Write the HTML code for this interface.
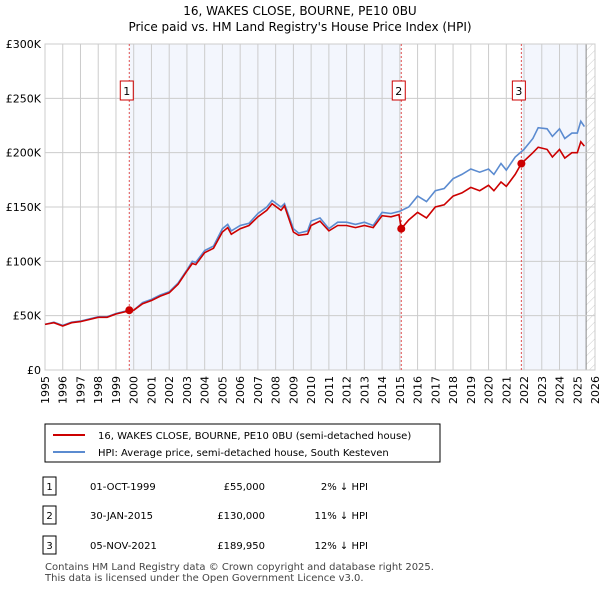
<!DOCTYPE html>
<html><head><meta charset="utf-8"><style>
body{margin:0;background:#fff;font-family:"Liberation Sans","DejaVu Sans",sans-serif;}
svg text{font-family:"DejaVu Sans","Liberation Sans",sans-serif;}
</style></head><body>
<svg id="c" width="600" height="590" xmlns="http://www.w3.org/2000/svg">
<defs><pattern id="h" width="6" height="6" patternUnits="userSpaceOnUse" patternTransform="rotate(45)"><line x1="0" y1="0" x2="0" y2="6" stroke="#ccc" stroke-width="1"/></pattern></defs>
<text x="300" y="15" text-anchor="middle" font-size="12">16, WAKES CLOSE, BOURNE, PE10 0BU</text>
<text x="300" y="31" text-anchor="middle" font-size="12">Price paid vs. HM Land Registry's House Price Index (HPI)</text>
<g id="plot"></g>
<g>
<rect x="45" y="424" width="395" height="38" fill="#fff" stroke="#000" stroke-width="1"/>
<line x1="53" y1="435" x2="85" y2="435" stroke="#cc0000" stroke-width="2"/>
<text x="98" y="439" font-size="10">16, WAKES CLOSE, BOURNE, PE10 0BU (semi-detached house)</text>
<line x1="53" y1="452" x2="85" y2="452" stroke="#5b8bd0" stroke-width="2"/>
<text x="98" y="456" font-size="10">HPI: Average price, semi-detached house, South Kesteven</text>
</g>
<g id="tbl" font-size="10"></g>
<text x="45" y="570" font-size="10" fill="#444">Contains HM Land Registry data © Crown copyright and database right 2025.</text>
<text x="45" y="581" font-size="10" fill="#444">This data is licensed under the Open Government Licence v3.0.</text>
</svg>
<script>
const hpiYears=[1995,1995.5,1996,1996.5,1997,1997.5,1998,1998.5,1999,1999.5,2000,2000.5,2001,2001.5,2002,2002.5,2003,2003.3,2003.5,2004,2004.5,2005,2005.3,2005.5,2006,2006.5,2007,2007.5,2007.8,2008.3,2008.5,2009,2009.3,2009.8,2010,2010.5,2011,2011.5,2012,2012.5,2013,2013.5,2014,2014.5,2015,2015.5,2016,2016.5,2017,2017.5,2018,2018.5,2019,2019.5,2020,2020.3,2020.7,2021,2021.5,2022,2022.5,2022.8,2023.3,2023.6,2024,2024.3,2024.7,2025,2025.2,2025.4];
const hpiValues=[42,44,41,44,45,47,49,49,52,54,55,62,65,69,72,80,92,100,99,110,114,130,134,128,133,135,144,150,156,150,153,130,126,128,137,140,130,136,136,134,136,133,145,144,146,150,160,155,165,167,176,180,185,182,185,180,190,184,196,203,213,223,222,215,222,213,218,218,229,224];
const ppYears=[1995,1995.5,1996,1996.5,1997,1997.5,1998,1998.5,1999,1999.5,2000,2000.5,2001,2001.5,2002,2002.5,2003,2003.3,2003.5,2004,2004.5,2005,2005.3,2005.5,2006,2006.5,2007,2007.5,2007.8,2008.3,2008.5,2009,2009.3,2009.8,2010,2010.5,2011,2011.5,2012,2012.5,2013,2013.5,2014,2014.5,2014.95,2015.08,2015.5,2016,2016.5,2017,2017.5,2018,2018.5,2019,2019.5,2020,2020.3,2020.7,2021,2021.5,2021.85,2022.5,2022.8,2023.3,2023.6,2024,2024.3,2024.7,2025,2025.2,2025.4];
const ppValues=[42,43.5,40.5,43.5,44.5,46.5,48.5,48.5,51.5,53.5,55,61,64,68,71,79,91,98,97,108,112,127,131,125,130,133,141,147,153,147,151,127,124,125,133,137,128,133,133,131,133,131,142,141,143,130,138,145,140,150,152,160,163,168,165,170,165,173,169,180,190,200,205,203,196,203,195,200,200,210,206];
const saleYears=[1999.75,2015.08,2021.85];
const salePrices=[55,130,189.95];
const saleLabels=["1","2","3"];
const tickYears=[1995,1996,1997,1998,1999,2000,2001,2002,2003,2004,2005,2006,2007,2008,2009,2010,2011,2012,2013,2014,2015,2016,2017,2018,2019,2020,2021,2022,2023,2024,2025,2026];
const yTicks=[0,50,100,150,200,250,300];
const yTickLabels=["£0","£50K","£100K","£150K","£200K","£250K","£300K"];
const tableDates=["01-OCT-1999","30-JAN-2015","05-NOV-2021"];
const tablePrices=["£55,000","£130,000","£189,950"];
const tableHpi=["2% ↓ HPI","11% ↓ HPI","12% ↓ HPI"];

const NS="http://www.w3.org/2000/svg";
const L=45,R=595,T=44,B=370,x0=1995,x1=2026,ymax=300;
const X=y=>L+(y-x0)/(x1-x0)*(R-L);
const Y=v=>B-v/ymax*(B-T);
const g=document.getElementById('plot');
function el(t,a,p){const e=document.createElementNS(NS,t);for(const k in a)e.setAttribute(k,a[k]);(p||g).appendChild(e);return e;}
let s=el('rect',{x:X(saleYears[0]),y:T,width:X(saleYears[1])-X(saleYears[0]),height:B-T,fill:'#eef2fc',opacity:0.7});


s=el('rect',{x:X(saleYears[2]),y:T,width:X(2025.5)-X(saleYears[2]),height:B-T,fill:'#eef2fc',opacity:0.7});


s=el('rect',{x:X(2025.5),y:T,width:R-X(2025.5),height:B-T,fill:'url(#h)'});


el('line',{x1:X(2025.5),y1:T,x2:X(2025.5),y2:B,stroke:'#888'});
tickYears.forEach(t=>{
 const ln=el('line',{x1:X(t),y1:T,x2:X(t),y2:B,stroke:'#ccc'});
 
 
 const tx=el('text',{x:0,y:0,'font-size':11,'text-anchor':'end',transform:`translate(${X(t)+4},${B+6}) rotate(-90)`});
 tx.textContent=t;
 
 
});
yTicks.forEach((v,i)=>{
 const ln=el('line',{x1:L,y1:Y(v),x2:R,y2:Y(v),stroke:'#ccc'});
 
 
 const tx=el('text',{x:L-4,y:Y(v)+4,'font-size':11,'text-anchor':'end'});
 tx.textContent=yTickLabels[i];
 
 
});
el('rect',{x:L,y:T,width:R-L,height:B-T,fill:'none',stroke:'#ccc'});
saleYears.forEach((sy,i)=>{
 const ln=el('line',{x1:X(sy),y1:T,x2:X(sy),y2:B,stroke:'#e05050','stroke-dasharray':'2,2'});
 
 
 const bx=el('rect',{x:X(sy)-9,y:81,width:13,height:19,fill:'#fff',stroke:'#cc0000'});
 
 
 const tx=el('text',{x:X(sy)-2.5,y:95,'font-size':11,'text-anchor':'middle'});
 tx.textContent=saleLabels[i];
 
 
});
const pts=(xs,vs)=>xs.map((x,i)=>X(x).toFixed(1)+','+Y(vs[i]).toFixed(1)).join(' ');
let p=el('polyline',{points:pts(hpiYears,hpiValues),fill:'none',stroke:'#5b8bd0','stroke-width':1.6});


p=el('polyline',{points:pts(ppYears,ppValues),fill:'none',stroke:'#cc0000','stroke-width':1.6});


saleYears.forEach((sy,i)=>{
 const c=el('circle',{cx:X(sy),cy:Y(salePrices[i]),r:4,fill:'#cc0000'});
 
 
});
const tb=document.getElementById('tbl');
[486,515,545].forEach((ry,i)=>{
 const b=el('rect',{x:43,y:ry-9,width:13,height:18,fill:'#fff',stroke:'#000'},tb);
 
 
 let t=el('text',{x:49.5,y:ry+4,'text-anchor':'middle'},tb);t.textContent=saleLabels[i];
 
 
 t=el('text',{x:90,y:ry+4},tb);t.textContent=tableDates[i];
 
 
 t=el('text',{x:265,y:ry+4,'text-anchor':'end'},tb);t.textContent=tablePrices[i];
 
 
 t=el('text',{x:368,y:ry+4,'text-anchor':'end'},tb);t.textContent=tableHpi[i];
 
 
});
</script>
</body></html>
